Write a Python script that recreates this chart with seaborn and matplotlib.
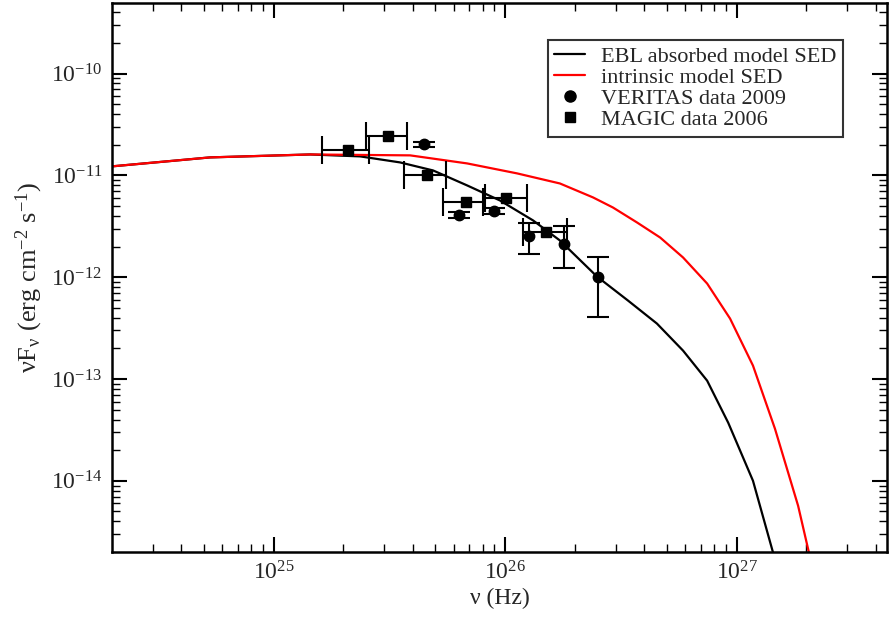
import numpy as np
import pandas as pd
import seaborn as sns
import matplotlib.pyplot as plt
from matplotlib.lines import Line2D
from matplotlib.ticker import FixedLocator, LogFormatterMathtext, NullFormatter

# model curves, log10(nu) and log10(nuFnu)
ebl_lognu = [24.302, 24.725, 25.158, 25.374, 25.546, 25.689, 25.836, 25.978, 26.121,
             26.237, 26.397, 26.531, 26.656, 26.769, 26.873, 26.964, 27.071, 27.158, 27.20]
ebl_logf = [-10.911, -10.823, -10.794, -10.813, -10.872, -10.951, -11.098, -11.246, -11.442,
            -11.639, -11.993, -12.229, -12.455, -12.721, -13.016, -13.429, -13.999, -14.707, -15.05]

intr_lognu = [24.302, 24.725, 25.158, 25.590, 25.836, 26.052, 26.237, 26.380, 26.466,
              26.570, 26.670, 26.769, 26.873, 26.972, 27.071, 27.166, 27.266, 27.313, 27.35]
intr_logf = [-10.911, -10.823, -10.794, -10.803, -10.882, -10.980, -11.079, -11.216, -11.315,
             -11.462, -11.610, -11.806, -12.062, -12.406, -12.868, -13.488, -14.245, -14.707, -15.07]

# VERITAS 2009 points
ver_nu = [4.46e25, 6.34e25, 8.98e25, 1.27e26, 1.80e26, 2.51e26]
ver_f = [2.02e-11, 4.11e-12, 4.46e-12, 2.57e-12, 2.13e-12, 1.00e-12]
ver_lo = [1.9e-11, 3.85e-12, 4.2e-12, 1.70e-12, 1.24e-12, 4.11e-13]
ver_hi = [2.15e-11, 4.4e-12, 4.75e-12, 3.40e-12, 3.22e-12, 1.57e-12]

# MAGIC 2006 points
mag_nu = [2.10e25, 3.13e25, 4.58e25, 6.76e25, 1.01e26, 1.51e26]
mag_f = [1.79e-11, 2.43e-11, 1.02e-11, 5.43e-12, 5.98e-12, 2.77e-12]
mag_nulo = [1.62e25, 2.51e25, 3.66e25, 5.41e25, 8.19e25, 1.19e26]
mag_nuhi = [2.58e25, 3.76e25, 5.55e25, 8.00e25, 1.24e26, 1.85e26]

x_major = [1e25, 1e26, 1e27]
y_major = [1e-14, 1e-13, 1e-12, 1e-11, 1e-10]

sns.set_theme(style="ticks")
plt.rcParams['font.family'] = ['Liberation Serif', 'DejaVu Serif']
plt.rcParams['mathtext.default'] = 'regular'

ebl = pd.DataFrame({'nu': 10 ** np.array(ebl_lognu), 'f': 10 ** np.array(ebl_logf)})
intr = pd.DataFrame({'nu': 10 ** np.array(intr_lognu), 'f': 10 ** np.array(intr_logf)})

fig = plt.figure(figsize=(8.89, 6.21), dpi=100)
ax = fig.add_axes([112 / 889, 1 - 552 / 621, (887 - 112) / 889, (552 - 3) / 621])
ax.set_xscale('log')
ax.set_yscale('log')

sns.lineplot(data=ebl, x='nu', y='f', ax=ax, color='black', lw=1.6,
             estimator=None, sort=False)
sns.lineplot(data=intr, x='nu', y='f', ax=ax, color='red', lw=1.6,
             estimator=None, sort=False)

vf = np.array(ver_f)
ax.errorbar(ver_nu, ver_f, yerr=[vf - np.array(ver_lo), np.array(ver_hi) - vf],
            fmt='o', color='black', ms=7.5, elinewidth=1.5, capsize=8, capthick=1.5)
mn = np.array(mag_nu)
ax.errorbar(mag_nu, mag_f, xerr=[mn - np.array(mag_nulo), np.array(mag_nuhi) - mn],
            fmt='s', color='black', ms=6.5, elinewidth=1.5, capsize=10, capthick=1.5)

xmin, xmax = 10 ** 24.302, 10 ** 27.65
ymin, ymax = 2e-15, 4.94e-10
ax.set_xlim(xmin, xmax)
ax.set_ylim(ymin, ymax)

# minor ticks at 2..9 of each decade, kept inside the view
x_minor = [m * 10.0 ** e for e in range(24, 28) for m in range(2, 10)]
y_minor = [m * 10.0 ** e for e in range(-15, -9) for m in range(2, 10)]
ax.xaxis.set_major_locator(FixedLocator(x_major))
ax.yaxis.set_major_locator(FixedLocator(y_major))
ax.xaxis.set_minor_locator(FixedLocator([v for v in x_minor if xmin < v < xmax]))
ax.yaxis.set_minor_locator(FixedLocator([v for v in y_minor if ymin < v < ymax]))
ax.xaxis.set_major_formatter(LogFormatterMathtext())
ax.yaxis.set_major_formatter(LogFormatterMathtext())
ax.xaxis.set_minor_formatter(NullFormatter())
ax.yaxis.set_minor_formatter(NullFormatter())

ax.tick_params(which='both', direction='in', top=True, right=True, color='black')
ax.tick_params(which='major', length=11, width=1.5, labelsize=17, pad=7)
ax.tick_params(which='minor', length=5.5, width=1.0)
for s in ax.spines.values():
    s.set_visible(True)
    s.set_linewidth(1.8)
    s.set_color('black')

ax.set_xlabel('ν (Hz)', fontsize=17, labelpad=2)
ax.set_ylabel('νF$_{ν}$ (erg cm$^{-2}$ s$^{-1}$)', fontsize=19, labelpad=4)

handles = [Line2D([], [], color='black', lw=1.6),
           Line2D([], [], color='red', lw=1.6),
           Line2D([], [], color='black', marker='o', ls='none', ms=8),
           Line2D([], [], color='black', marker='s', ls='none', ms=7)]
labels = ['EBL absorbed model SED', 'intrinsic model SED',
          'VERITAS data 2009', 'MAGIC data 2006']
leg = ax.legend(handles, labels, loc='upper right', bbox_to_anchor=(843 / 889, 1 - 40 / 621),
                bbox_transform=fig.transFigure, fontsize=16, frameon=True, fancybox=False,
                handlelength=1.4, handletextpad=0.7, labelspacing=0.02, borderpad=0.3,
                borderaxespad=0)
leg.get_frame().set_edgecolor('black')
leg.get_frame().set_linewidth(1.5)

fig.savefig('out.png', dpi=100)
